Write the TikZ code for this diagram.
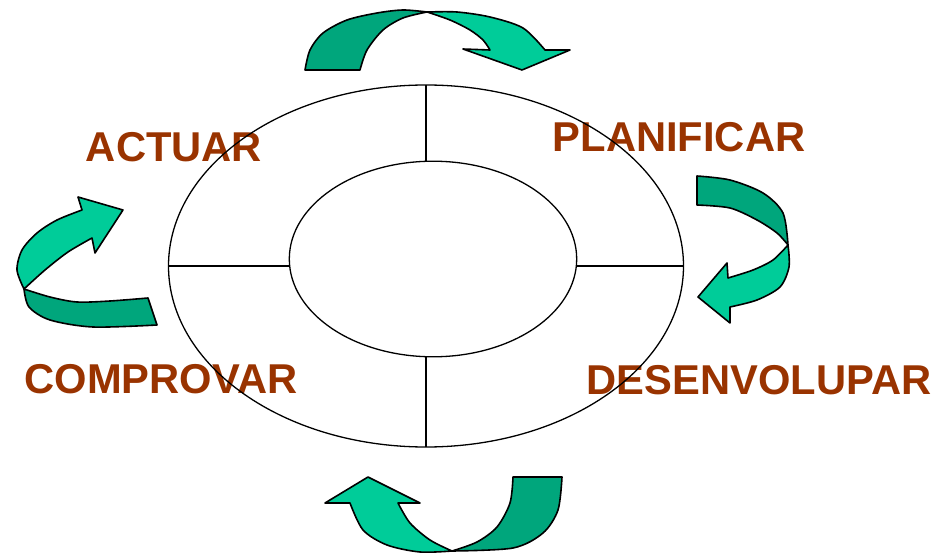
\documentclass[tikz,border=0pt]{standalone}
\usepackage{fontspec}
\setmainfont{Liberation Sans}
\usepackage{xcolor}
\usetikzlibrary{shapes.geometric, calc}

\definecolor{phasecol}{HTML}{993300}
\definecolor{frontcol}{HTML}{00CC99}
\definecolor{backcol}{HTML}{00A67C}

\begin{document}
\begin{tikzpicture}[
  x=1pt, y=-1pt,
  phase/.style={font=\fontsize{41.7}{48}\selectfont\bfseries, text=phasecol, inner sep=0pt, anchor=base},
  ring/.style={ellipse, draw=black, line width=1.3pt, inner sep=0pt, outer sep=0pt},
  rule/.style={draw=black, line width=1.3pt},
  back/.style={fill=backcol, draw=black, line width=1.6pt, line join=round},
  front/.style={fill=frontcol, draw=black, line width=1.6pt, line join=round},
]
\useasboundingbox (0,0) rectangle (938,556);

% phases
\node[phase] (plan) at (679,152) {PLANIFICAR};
\node[phase] (desen) at (759,394) {DESENVOLUPAR};
\node[phase] (comprovar) at (161,393) {COMPROVAR};
\node[phase] (actuar) at (174,162) {ACTUAR};

% wheel
\node[ring, minimum width=515pt, minimum height=362pt] (outer) at (426,266) {};
\node[ring, minimum width=287.4pt, minimum height=195.6pt] (inner) at (433,259) {};
\draw[rule] (outer.north) -- (outer.north |- inner.north);
\draw[rule] (outer.south) -- (outer.south |- inner.south);
\draw[rule] (outer.west) -- (outer.west -| inner.west);
\draw[rule] (outer.east) -- (outer.east -| inner.east);

% top arrow
\draw[back] plot[smooth] coordinates {(305,70) (310,50) (323,33) (347,20) (377,13) (403,10) (427,12)}
  -- plot[smooth] coordinates {(427,12) (403,18) (383,30) (367,50) (360,70)} -- cycle;
\draw[front] plot[smooth] coordinates {(427,12) (457,12) (490,17) (523,28) (545,50)}
  -- (570,50) -- (522,70) -- (463,49) -- (490,50)
  -- plot[smooth] coordinates {(490,50) (483,40) (470,30) (450,20) (427,12)} -- cycle;

% right arrow
\draw[back] plot[smooth] coordinates {(697,176) (730,180) (763,193) (783,213) (788,245)}
  -- plot[smooth] coordinates {(788,245) (777,233) (757,220) (730,208) (697,205)} -- cycle;
\draw[front] plot[smooth] coordinates {(788,245) (789,267) (780,287) (757,300) (730,307)}
  -- (730,323) -- (698,297) -- (727,263) -- (728,278)
  -- plot[smooth] coordinates {(728,278) (753,270) (773,260) (788,245)} -- cycle;

% bottom arrow
\draw[back] (513,477) -- (562,477)
  -- plot[smooth] coordinates {(562,477) (558,510) (543,533) (513,548) (452,551)}
  -- plot[smooth] coordinates {(452,551) (477,542) (497,527) (510,503) (513,477)} -- cycle;
\draw[front] plot[smooth] coordinates {(452,551) (420,552) (387,545) (363,530) (350,503)}
  -- (325,503) -- (368,477) -- (420,503) -- (398,503)
  -- plot[smooth] coordinates {(398,503) (410,523) (430,540) (452,551)} -- cycle;

% left arrow
\draw[back] plot[smooth] coordinates {(24,289) (29,307) (50,320) (93,327) (157,325)}
  -- (148,298)
  -- plot[smooth] coordinates {(148,298) (110,301) (77,302) (50,297) (24,289)} -- cycle;
\draw[front] plot[smooth] coordinates {(24,289) (17,270) (22,250) (37,233) (57,220) (82,210)}
  -- (78,197) -- (123,210) -- (95,253) -- (92,238)
  -- plot[smooth] coordinates {(92,238) (68,252) (45,270) (24,289)} -- cycle;
\end{tikzpicture}
\end{document}
